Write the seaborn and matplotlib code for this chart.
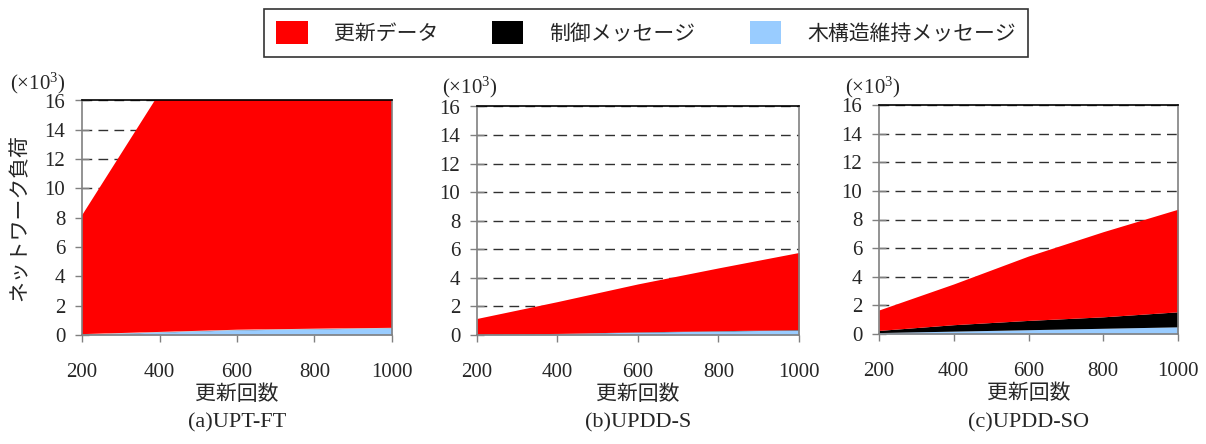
import numpy as np
import pandas as pd
import matplotlib
matplotlib.use("Agg")
import matplotlib.pyplot as plt
from matplotlib.patches import Patch
import seaborn as sns

# ---- data (values in units of 10^3) ----
updates = [200, 400, 600, 800, 1000]
series_names = ["更新データ", "制御メッセージ", "木構造維持メッセージ"]
panel_titles = ["(a)UPT-FT", "(b)UPDD-S", "(c)UPDD-SO"]

upt_ft_update = [8.1, 16.3, 24.4, 32.5, 40.6]
upt_ft_control = [0.01, 0.01, 0.01, 0.01, 0.01]
upt_ft_tree = [0.05, 0.2, 0.35, 0.42, 0.48]

upddS_update = [1.1, 2.23, 3.36, 4.4, 5.4]
upddS_control = [0.01, 0.01, 0.02, 0.02, 0.03]
upddS_tree = [0.05, 0.1, 0.2, 0.28, 0.35]

upddSO_update = [1.43, 2.85, 4.5, 5.95, 7.17]
upddSO_control = [0.15, 0.45, 0.65, 0.8, 1.05]
upddSO_tree = [0.1, 0.2, 0.3, 0.4, 0.5]

yticks = [0, 2, 4, 6, 8, 10, 12, 14, 16]

colors = {"更新データ": "#FF0000", "制御メッセージ": "#000000", "木構造維持メッセージ": "#99CCFF"}

frames = []
for title, up, ct, tr in [
    (panel_titles[0], upt_ft_update, upt_ft_control, upt_ft_tree),
    (panel_titles[1], upddS_update, upddS_control, upddS_tree),
    (panel_titles[2], upddSO_update, upddSO_control, upddSO_tree),
]:
    frames.append(pd.DataFrame({"panel": title, "x": updates,
                                series_names[0]: up, series_names[1]: ct,
                                series_names[2]: tr}))
df = pd.concat(frames, ignore_index=True)

sns.set_theme(style="white")
SERIF = ["Liberation Serif", "DejaVu Serif"]
JP = ["Noto Sans CJK JP", "DejaVu Sans"]
plt.rcParams["font.family"] = SERIF
plt.rcParams["mathtext.fontset"] = "custom"
plt.rcParams["mathtext.rm"] = "Liberation Serif"
plt.rcParams["mathtext.it"] = "Liberation Serif:italic"
plt.rcParams["mathtext.bf"] = "Liberation Serif:bold"

fig = plt.figure(figsize=(12.06, 4.44), dpi=100)
W, H = 1206, 444
boxes = [(82, 392, 100.5, 335), (477, 799, 106.5, 335), (879, 1178, 105, 334)]
unit_pos = [(10, 89), (442, 93), (845, 93)]

for i, (title, (l, r, t, b)) in enumerate(zip(panel_titles, boxes)):
    ax = fig.add_axes([l / W, 1 - b / H, (r - l) / W, (b - t) / H])
    d = df[df["panel"] == title]
    ax.stackplot(d["x"], d[series_names[2]], d[series_names[1]], d[series_names[0]],
                 colors=[colors[series_names[2]], colors[series_names[1]], colors[series_names[0]]],
                 linewidth=0)
    ax.set_xlim(200, 1000)
    ax.set_ylim(0, 16)
    ax.set_xticks(updates)
    ax.set_yticks(yticks)
    ax.set_axisbelow(True)
    ax.yaxis.grid(True, color="#303030", linestyle=(0, (7, 4.5)), linewidth=1.0)
    ax.xaxis.grid(False)
    for s in ["left", "bottom", "right"]:
        ax.spines[s].set_color("#808080")
        ax.spines[s].set_linewidth(1.2)
    ax.spines["top"].set_color("#000000")
    ax.spines["top"].set_linewidth(1.2)
    ax.tick_params(axis="x", direction="out", length=5, width=1, color="#808080",
                   labelsize=15, pad=15, bottom=True)
    ax.tick_params(axis="y", direction="inout", length=10, width=1, color="#808080",
                   labelsize=15, pad=7, left=True)
    for lab in ax.get_xticklabels() + ax.get_yticklabels():
        lab.set_fontfamily(SERIF)
    ax.set_xlabel("更新回数", fontsize=15, family=JP, labelpad=1)
    if i == 0:
        ax.set_ylabel("ネットワーク負荷", fontsize=15, family=JP, labelpad=10)
    ux, uy = unit_pos[i]
    fig.text(ux / W, 1 - uy / H, r"$\mathrm{(\times10^{3})}$",
             fontsize=15, ha="left", va="baseline")
    fig.text(((l + r) / 2) / W, 1 - 423 / H, title, fontsize=16, family=SERIF,
             ha="center", va="center")

handles = [Patch(facecolor=colors[n], edgecolor="none") for n in series_names]
leg = fig.legend(handles, series_names, loc="center", bbox_to_anchor=(646 / W, 1 - 33 / H),
                 ncol=3, frameon=True, fancybox=False,
                 prop={"family": JP, "size": 15}, handlelength=1.5, handleheight=1.25,
                 columnspacing=2.6, handletextpad=1.25, borderpad=0.6)
leg.get_frame().set_edgecolor("#000000")
leg.get_frame().set_linewidth(1.2)

fig.savefig("out.png", dpi=100)
